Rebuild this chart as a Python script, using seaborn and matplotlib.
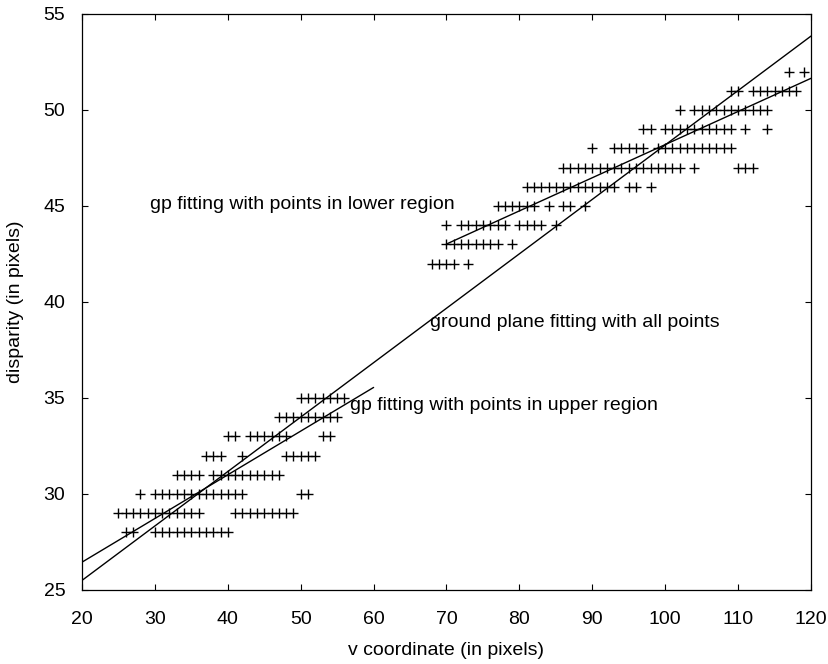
import numpy as np
import pandas as pd
import matplotlib
matplotlib.use("Agg")
import matplotlib.pyplot as plt
import seaborn as sns

# measured points: v coordinate values for each disparity level
v_28 = [26, 27, 30, 31, 32, 33, 34, 35, 36, 37, 38, 39, 40]
v_29 = [25, 26, 27, 28, 29, 30, 31, 32, 33, 34, 35, 36,
        41, 42, 43, 44, 45, 46, 47, 48, 49]
v_30 = [28, 30, 31, 32, 33, 34, 35, 36, 37, 38, 39, 40, 41, 42, 50, 51]
v_31 = [33, 34, 35, 36, 38, 39, 40, 41, 42, 43, 44, 45, 46, 47]
v_32 = [37, 38, 39, 42, 48, 49, 50, 51, 52]
v_33 = [40, 41, 43, 44, 45, 46, 47, 48, 53, 54]
v_34 = [47, 48, 49, 50, 51, 52, 53, 54, 55]
v_35 = [50, 51, 52, 53, 54, 55, 56]
v_42 = [68, 69, 70, 71, 73]
v_43 = [70, 71, 72, 73, 74, 75, 76, 77, 79]
v_44 = [70, 72, 73, 74, 75, 76, 77, 78, 80, 81, 82, 83, 85]
v_45 = [77, 78, 79, 80, 81, 82, 84, 86, 87, 89]
v_46 = [81, 82, 83, 84, 85, 86, 87, 88, 89, 90, 91, 92, 93, 95, 96, 98]
v_47 = [86, 87, 88, 89, 90, 91, 92, 93, 94, 95, 96, 97, 98, 99, 100, 101,
        102, 104, 110, 111, 112]
v_48 = [90, 93, 94, 95, 96, 97, 99, 100, 101, 102, 103, 104, 105, 106,
        107, 108, 109]
v_49 = [97, 98, 100, 101, 102, 103, 104, 105, 106, 107, 108, 109, 111, 114]
v_50 = [102, 104, 105, 106, 107, 108, 109, 110, 111, 112, 113, 114]
v_51 = [109, 110, 112, 113, 114, 115, 116, 117, 118]
v_52 = [117, 119]

disp_levels = [28, 29, 30, 31, 32, 33, 34, 35, 42, 43, 44, 45, 46, 47, 48, 49, 50, 51, 52]
v_rows = [v_28, v_29, v_30, v_31, v_32, v_33, v_34, v_35, v_42, v_43, v_44,
          v_45, v_46, v_47, v_48, v_49, v_50, v_51, v_52]

# fitted lines (end points)
fit_all_v = [20, 120]
fit_all_d = [25.5, 53.85]
fit_upper_v = [20, 60]
fit_upper_d = [26.45, 35.55]
fit_lower_v = [70, 120]
fit_lower_d = [43.02, 51.65]

rows = []
for d, vs in zip(disp_levels, v_rows):
    for v in vs:
        rows.append((v, d))
df = pd.DataFrame(rows, columns=["v", "disparity"])

sns.set_style("ticks")
plt.rcParams['font.family'] = ['Liberation Sans', 'DejaVu Sans']
plt.rcParams['font.size'] = 14
for key in ['text.color', 'axes.labelcolor', 'xtick.color', 'ytick.color']:
    plt.rcParams[key] = 'black'

fig, ax = plt.subplots(figsize=(8.29, 6.64), dpi=100)
fig.subplots_adjust(left=82/829, right=811/829, bottom=1-590/664, top=1-14/664)

sns.scatterplot(data=df, x="v", y="disparity", marker="+", s=46,
                color="black", linewidth=1.0, ax=ax, legend=False)
for xs, ys in [(fit_all_v, fit_all_d), (fit_upper_v, fit_upper_d), (fit_lower_v, fit_lower_d)]:
    sns.lineplot(x=xs, y=ys, color="black", linewidth=1.0, ax=ax)

ax.text(29.3, 44.84, "gp fitting with points in lower region", fontsize=14, va="baseline")
ax.text(67.7, 38.7, "ground plane fitting with all points", fontsize=14, va="baseline")
ax.text(56.8, 34.38, "gp fitting with points in upper region", fontsize=14, va="baseline")

ax.set_xlim(20, 120)
ax.set_ylim(25, 55)
ax.set_xticks(np.arange(20, 121, 10))
ax.set_yticks(np.arange(25, 56, 5))
ax.tick_params(direction="in", length=4.5, width=0.8, top=True, right=True,
               labelsize=14, color="black")
ax.tick_params(axis="y", pad=12)
ax.tick_params(axis="x", pad=15)
for s in ax.spines.values():
    s.set_linewidth(0.9)
    s.set_color("black")
ax.set_xlabel("v coordinate (in pixels)", fontsize=14, labelpad=10)
ax.set_ylabel("disparity (in pixels)", fontsize=14, labelpad=14)

plt.savefig("out.png", dpi=100)
